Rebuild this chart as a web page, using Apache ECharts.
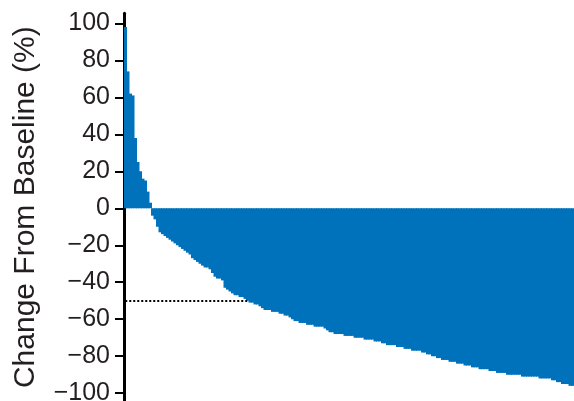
<!DOCTYPE html>
<html>
<head>
<meta charset="utf-8">
<script src="https://cdn.jsdelivr.net/npm/echarts@6/dist/echarts.min.js"></script>
<style>
  html, body { margin: 0; padding: 0; background: #fff; }
  #chart { width: 574px; height: 401px; }
</style>
</head>
<body>
<div id="chart"></div>
<script>
// Best percentage change from baseline per patient, sorted from largest increase to largest decrease
const changeFromBaseline = [
  98, 74, 62, 61, 38, 25, 20, 16, 15, 9,
  3, -4, -6, -10, -13, -14, -15, -16, -17, -18,
  -19, -20, -21, -22, -23, -24, -25, -27, -28, -29,
  -30, -31, -32, -32, -33, -35, -37, -38, -38, -39,
  -43, -44, -45, -46, -47, -47, -48, -48, -49, -50,
  -51, -51, -52, -52, -53, -54, -55, -55, -55, -56,
  -56, -56, -57, -57, -58, -58, -59, -60, -61, -61,
  -62, -62, -62, -63, -63, -63, -64, -64, -64, -64,
  -65, -66, -67, -67, -68, -68, -68, -68, -69, -69,
  -69, -69, -70, -70, -70, -70, -71, -71, -71, -71,
  -72, -72, -72, -73, -73, -74, -74, -74, -74, -75,
  -75, -75, -76, -76, -76, -77, -77, -77, -77, -78,
  -78, -79, -79, -80, -80, -81, -81, -82, -82, -82,
  -83, -83, -83, -84, -84, -84, -85, -85, -85, -86,
  -86, -86, -87, -87, -87, -87, -88, -88, -88, -89,
  -89, -89, -89, -90, -90, -90, -90, -90, -90, -91,
  -91, -91, -91, -91, -91, -91, -92, -92, -92, -92,
  -92, -93, -93, -94, -94, -95, -95, -95, -96, -96
];
const patients = changeFromBaseline.map((_, i) => 'P' + (i + 1));
const yTickValues = [-100, -80, -60, -40, -20, 0, 20, 40, 60, 80, 100];
const responseThreshold = -50;
// the dotted reference line runs from the first patient to the last one at the threshold
const thresholdEndIndex = changeFromBaseline.filter(v => v >= responseThreshold).length - 1;

const textColor = '#231f20';
const barColor = '#0072bc';

const chart = echarts.init(document.getElementById('chart'), null, { renderer: 'canvas' });
chart.setOption({
  animation: false,
  grid: { left: 124, right: 0, top: 13.3, bottom: 0, outerBoundsMode: 'none', containLabel: false },
  xAxis: {
    type: 'category',
    data: patients,
    show: false,
    boundaryGap: true
  },
  yAxis: {
    type: 'value',
    min: -104.2,
    max: 105.4,
    name: 'Change From Baseline (%)',
    nameLocation: 'middle',
    nameRotate: 90,
    nameGap: 83,
    nameTextStyle: {
      fontFamily: 'Liberation Sans, Arial, sans-serif',
      fontSize: 30,
      color: textColor
    },
    splitLine: { show: false },
    axisLine: { show: true, lineStyle: { color: '#000', width: 3 } },
    axisTick: {
      show: true,
      length: 9,
      customValues: yTickValues,
      lineStyle: { color: '#000', width: 2 }
    },
    axisLabel: {
      customValues: yTickValues,
      margin: 14,
      fontFamily: 'Liberation Sans, Arial, sans-serif',
      fontSize: 25,
      color: textColor,
      formatter: v => (v < 0 ? '\u2212' + Math.abs(v) : String(v))
    }
  },
  series: [{
    type: 'bar',
    data: changeFromBaseline,
    // slightly wider than a category so neighbouring bars overlap and leave no seams
    barWidth: '140%',
    itemStyle: { color: barColor },
    emphasis: { disabled: true },
    z: 2,
    markLine: {
      silent: true,
      symbol: 'none',
      label: { show: false },
      lineStyle: { color: '#000', type: [2, 2], width: 2 },
      data: [[
        { xAxis: 0, yAxis: responseThreshold },
        { xAxis: thresholdEndIndex, yAxis: responseThreshold }
      ]]
    }
  }]
});
</script>
</body>
</html>
